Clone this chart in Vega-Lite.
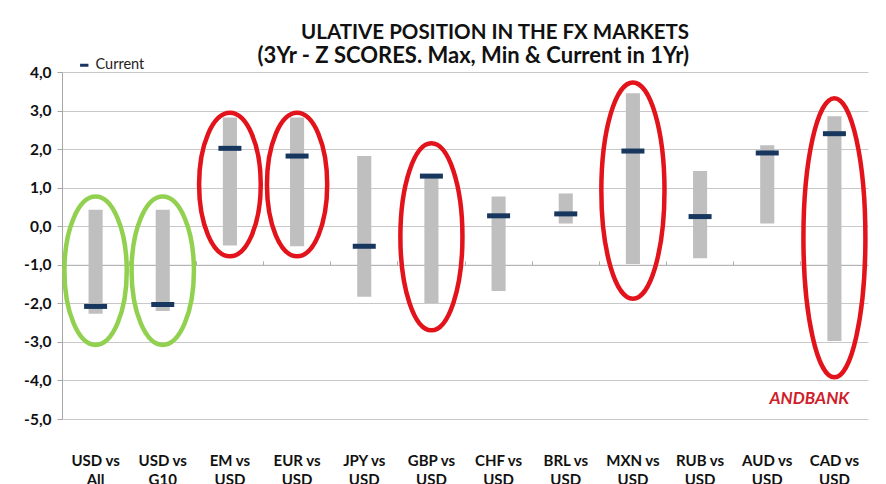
{
  "$schema": "https://vega.github.io/schema/vega-lite/v6.json",
  "autosize": "none",
  "width": 806,
  "height": 347,
  "padding": {"left": 62, "top": 72, "right": 18, "bottom": 65},
  "background": "white",
  "title": {
    "text": "ULATIVE POSITION IN THE FX MARKETS",
    "subtitle": "(3Yr - Z SCORES. Max, Min & Current in 1Yr)",
    "anchor": "end",
    "frame": "group",
    "dx": -179,
    "offset": -9,
    "font": "Lato",
    "fontSize": 20.5,
    "fontWeight": "bold",
    "color": "#111111",
    "subtitleFont": "Lato",
    "subtitleFontSize": 22,
    "subtitleFontWeight": "bold",
    "subtitleColor": "#111111",
    "subtitlePadding": 3
  },
  "datasets": {
    "fx": [
      {"category": "USD vs All", "max": 0.43, "min": -2.27, "current": -2.08},
      {"category": "USD vs G10", "max": 0.43, "min": -2.2, "current": -2.03},
      {"category": "EM vs USD", "max": 2.82, "min": -0.5, "current": 2.02},
      {"category": "EUR vs USD", "max": 2.82, "min": -0.52, "current": 1.82},
      {"category": "JPY vs USD", "max": 1.82, "min": -1.83, "current": -0.52},
      {"category": "GBP vs USD", "max": 1.28, "min": -1.99, "current": 1.3},
      {"category": "CHF vs USD", "max": 0.77, "min": -1.68, "current": 0.27},
      {"category": "BRL vs USD", "max": 0.85, "min": 0.07, "current": 0.32},
      {"category": "MXN vs USD", "max": 3.45, "min": -0.98, "current": 1.95},
      {"category": "RUB vs USD", "max": 1.43, "min": -0.83, "current": 0.25},
      {"category": "AUD vs USD", "max": 2.1, "min": 0.07, "current": 1.9},
      {"category": "CAD vs USD", "max": 2.85, "min": -2.98, "current": 2.4}
    ],
    "rings": [
      {"id": "g1", "category": "USD vs All", "tone": "green", "center": -1.155, "span": 3.85},
      {"id": "g2", "category": "USD vs G10", "tone": "green", "center": -1.155, "span": 3.85},
      {"id": "r1", "category": "EM vs USD", "tone": "red", "center": 1.08, "span": 3.72},
      {"id": "r2", "category": "EUR vs USD", "tone": "red", "center": 1.08, "span": 3.72},
      {"id": "r3", "category": "GBP vs USD", "tone": "red", "center": -0.275, "span": 4.85},
      {"id": "r4", "category": "MXN vs USD", "tone": "red", "center": 0.925, "span": 5.61},
      {"id": "r5", "category": "CAD vs USD", "tone": "red", "center": -0.3, "span": 7.24}
    ],
    "notes": [
      {"category": "CAD vs USD", "y": -4.47, "label": "ANDBANK"}
    ]
  },
  "resolve": {"axis": {"x": "independent"}},
  "layer": [
    {
      "data": {"name": "fx"},
      "mark": {"type": "bar", "color": "#BFBFBF", "width": {"band": 0.21}},
      "encoding": {
        "x": {
          "field": "category", "type": "nominal", "sort": null,
          "scale": {"paddingInner": 0, "paddingOuter": 0},
          "axis": {
            "title": null, "domain": false, "ticks": false, "grid": false,
            "labelAngle": 0, "labelPadding": 34,
            "labelFont": "Lato", "labelFontSize": 15, "labelFontWeight": "bold",
            "labelColor": "#111111", "labelLineHeight": 19, "labelBaseline": "top",
            "labelExpr": "[split(datum.value, ' vs ')[0] + ' vs', split(datum.value, ' vs ')[1]]"
          }
        },
        "y": {
          "field": "min", "type": "quantitative",
          "scale": {"domain": [-5, 4], "nice": false, "zero": false},
          "axis": {
            "title": null, "values": [-5, -4, -3, -2, -1, 0, 1, 2, 3, 4],
            "tickCount": 20,
            "labelOverlap": false,
            "labelExpr": "replace(replace(format(datum.value, '.1f'), '.', ','), '\u2212', '-')",
            "labelFont": "Lato", "labelFontSize": 15.5, "labelFontWeight": "bold",
            "labelColor": "#111111", "labelPadding": 6,
            "domainColor": "#A6A6A6", "tickColor": "#A6A6A6", "tickSize": 5,
            "gridColor": "#C8C8C8", "grid": true
          }
        },
        "y2": {"field": "max"}
      }
    },
    {
      "data": {"name": "fx"},
      "mark": {"type": "tick", "thickness": 5, "size": 23, "opacity": 1},
      "encoding": {
        "x": {
          "field": "category", "type": "nominal", "sort": null,
          "axis": {
            "title": null, "labels": false, "domain": true, "ticks": true,
            "bandPosition": 0, "tickSize": 4, "offset": -192.8, "grid": false,
            "domainColor": "#B0B0B0", "tickColor": "#B0B0B0"
          }
        },
        "y": {"field": "current", "type": "quantitative"},
        "color": {
          "datum": "Current",
          "scale": {"domain": ["Current"], "range": ["#17375E"]},
          "legend": {
            "title": null, "orient": "none", "legendX": 15, "legendY": -14,
            "symbolType": "stroke", "symbolSize": 70, "symbolStrokeWidth": 3,
            "symbolStrokeColor": "#17375E", "symbolOpacity": 1,
            "labelFont": "Lato", "labelFontSize": 14.5, "labelColor": "#222222"
          }
        }
      }
    },
    {
      "data": {"name": "rings"},
      "mark": {"type": "point", "filled": false, "strokeWidth": 4.5, "opacity": 1},
      "encoding": {
        "x": {"field": "category", "type": "nominal", "sort": null, "axis": null},
        "y": {"field": "center", "type": "quantitative"},
        "size": {
          "field": "span", "type": "quantitative", "legend": null,
          "scale": {"type": "pow", "exponent": 2, "domain": [0, 9], "range": [0, 120409]}
        },
        "shape": {
          "field": "id", "type": "nominal", "legend": null,
          "scale": {
            "domain": ["g1", "g2", "r1", "r2", "r3", "r4", "r5"],
            "range": [
              "M0,-1C0.232,-1,0.42,-0.5523,0.42,0C0.42,0.5523,0.232,1,0,1C-0.232,1,-0.42,0.5523,-0.42,0C-0.42,-0.5523,-0.232,-1,0,-1Z",
              "M0,-1C0.232,-1,0.42,-0.5523,0.42,0C0.42,0.5523,0.232,1,0,1C-0.232,1,-0.42,0.5523,-0.42,0C-0.42,-0.5523,-0.232,-1,0,-1Z",
              "M0,-1C0.2375,-1,0.43,-0.5523,0.43,0C0.43,0.5523,0.2375,1,0,1C-0.2375,1,-0.43,0.5523,-0.43,0C-0.43,-0.5523,-0.2375,-1,0,-1Z",
              "M0,-1C0.232,-1,0.42,-0.5523,0.42,0C0.42,0.5523,0.232,1,0,1C-0.232,1,-0.42,0.5523,-0.42,0C-0.42,-0.5523,-0.232,-1,0,-1Z",
              "M0,-1C0.1834,-1,0.332,-0.5523,0.332,0C0.332,0.5523,0.1834,1,0,1C-0.1834,1,-0.332,0.5523,-0.332,0C-0.332,-0.5523,-0.1834,-1,0,-1Z",
              "M0,-1C0.1613,-1,0.292,-0.5523,0.292,0C0.292,0.5523,0.1613,1,0,1C-0.1613,1,-0.292,0.5523,-0.292,0C-0.292,-0.5523,-0.1613,-1,0,-1Z",
              "M0,-1C0.1226,-1,0.222,-0.5523,0.222,0C0.222,0.5523,0.1226,1,0,1C-0.1226,1,-0.222,0.5523,-0.222,0C-0.222,-0.5523,-0.1226,-1,0,-1Z"
            ]
          }
        },
        "stroke": {
          "field": "tone", "type": "nominal", "legend": null,
          "scale": {"domain": ["green", "red"], "range": ["#92D050", "#E2131B"]}
        }
      }
    },
    {
      "data": {"name": "notes"},
      "mark": {"type": "text", "font": "Lato", "fontSize": 17, "fontWeight": "bold", "fontStyle": "italic", "color": "#D0202A", "dx": -25},
      "encoding": {
        "x": {"field": "category", "type": "nominal", "sort": null, "axis": null},
        "y": {"field": "y", "type": "quantitative"},
        "text": {"field": "label"}
      }
    }
  ],
  "config": {
    "view": {"stroke": null}
  }
}
